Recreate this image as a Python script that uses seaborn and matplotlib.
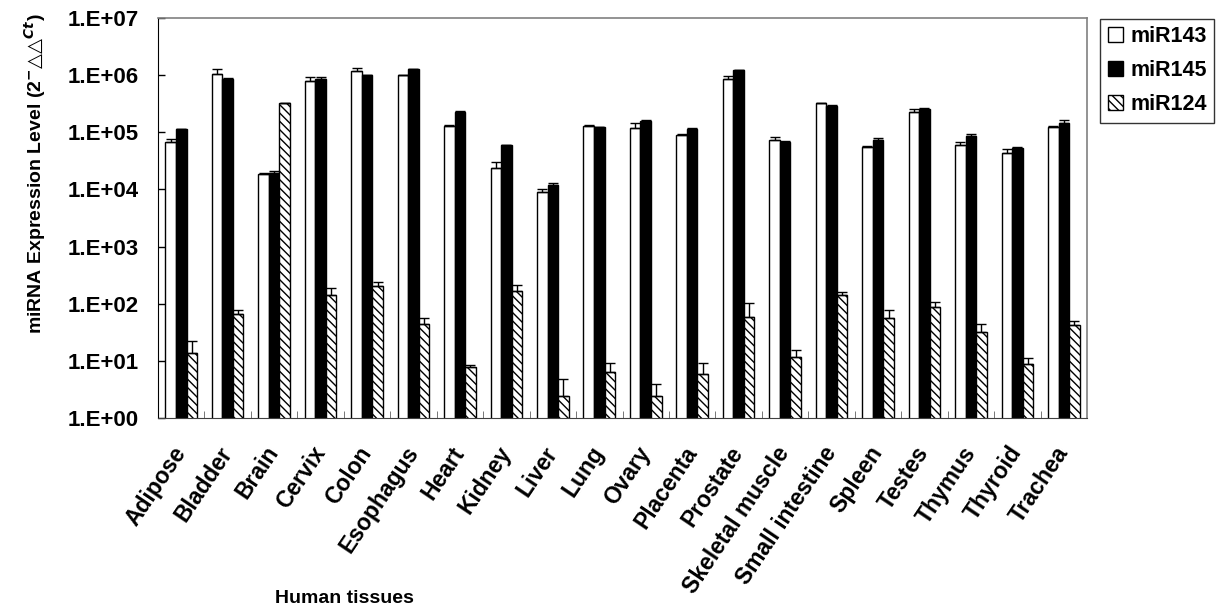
import numpy as np
import pandas as pd
import matplotlib
matplotlib.use("Agg")
import matplotlib.pyplot as plt
import seaborn as sns
from matplotlib.ticker import FuncFormatter, NullLocator
from matplotlib.patches import Patch

tissues = ["Adipose", "Bladder", "Brain", "Cervix", "Colon", "Esophagus", "Heart",
           "Kidney", "Liver", "Lung", "Ovary", "Placenta", "Prostate",
           "Skeletal muscle", "Small intestine", "Spleen", "Testes", "Thymus",
           "Thyroid", "Trachea"]
series = ["miR143", "miR145", "miR124"]

mir143 = [6.7e4, 1.05e6, 1.85e4, 7.9e5, 1.18e6, 1.0e6, 1.29e5, 2.4e4, 9.0e3, 1.3e5,
          1.2e5, 9.1e4, 8.7e5, 7.4e4, 3.2e5, 5.6e4, 2.3e5, 6.0e4, 4.3e4, 1.24e5]
mir145 = [1.14e5, 8.7e5, 1.9e4, 8.5e5, 1.0e6, 1.28e6, 2.28e5, 6.0e4, 1.2e4, 1.23e5,
          1.6e5, 1.15e5, 1.23e6, 6.8e4, 2.9e5, 7.3e4, 2.6e5, 8.7e4, 5.4e4, 1.45e5]
mir124 = [13.9, 66, 3.2e5, 141, 203, 44, 7.8, 170, 2.4, 6.4,
          2.4, 5.8, 59, 11.5, 142, 56, 88, 32, 8.7, 42]

# upper error bars only
err143 = [9e3, 2.1e5, 6e2, 1.4e5, 1.5e5, 2e4, 3e3, 6e3, 1e3, 4e3,
          2.3e4, 2e3, 1.1e5, 1e4, 8e3, 2e3, 2.8e4, 7e3, 7e3, 4e3]
err145 = [2e3, 2e4, 2.2e3, 8e4, 1e4, 2e4, 4e3, 1e3, 1.2e3, 1e3,
          5e3, 2e3, 2e4, 1e3, 5e3, 8e3, 1e4, 8e3, 1e3, 1.8e4]
err124 = [8, 13, 1e4, 50, 37, 12, 0.8, 46, 2.5, 2.8,
          1.6, 3.4, 43, 4.2, 19, 22, 18, 13, 2.4, 8]

df = pd.DataFrame({"tissue": tissues, "miR143": mir143, "miR145": mir145, "miR124": mir124})
df = df.melt(id_vars="tissue", var_name="miRNA", value_name="value")

plt.rcParams["font.family"] = ["Liberation Sans", "DejaVu Sans"]
plt.rcParams["font.weight"] = "bold"
plt.rcParams["hatch.linewidth"] = 1.0

fig = plt.figure(figsize=(12.23, 6.1), dpi=100)
ax = fig.add_axes([0.1292, 0.3148, 0.7596, 0.6557])
ax.set_yscale("log")

sns.barplot(data=df, x="tissue", y="value", hue="miRNA", hue_order=series,
            palette=["white", "black", "white"], edgecolor="black", linewidth=1,
            width=0.68, gap=0, errorbar=None, legend=False, ax=ax)

for i, (cont, vals, errs) in enumerate(zip(ax.containers, [mir143, mir145, mir124],
                                           [err143, err145, err124])):
    xs = [b.get_x() + b.get_width() / 2 for b in cont]
    ax.errorbar(xs, vals, yerr=[np.zeros(len(errs)), errs], fmt="none",
                ecolor="black", elinewidth=1, capsize=3.5, capthick=1, zorder=3)
    if i == 2:
        for b in cont:
            b.set_hatch("\\\\\\\\")

ax.set_ylim(1, 1e7)
ax.set_xlim(-0.5, len(tissues) - 0.5)
ax.set_yticks([10 ** k for k in range(8)])
ax.yaxis.set_minor_locator(NullLocator())
ax.yaxis.set_major_formatter(FuncFormatter(lambda v, p: "1.E+%02d" % int(round(np.log10(v)))))
ax.tick_params(axis="y", direction="in", length=5, pad=14, labelsize=16, width=1)

ax.set_xticks(range(len(tissues)))
ax.set_xticklabels(tissues, rotation=56, ha="right", va="center", rotation_mode="anchor",
                   fontweight="bold", fontsize=16.5)
ax.set_xticks(np.arange(0.5, len(tissues) - 0.5, 1), minor=True)
ax.tick_params(axis="x", which="major", length=0, pad=22)
ax.tick_params(axis="x", which="minor", direction="in", length=5, color="#606060")

ax.set_xlabel("Human tissues", fontsize=14, fontweight="bold")
ax.xaxis.set_label_coords(0.201, -0.43)
ax.set_ylabel("miRNA Expression Level (2$^{-}\u25b3\u25b3^{Ct}$)", fontsize=14,
              fontweight="bold")
ax.yaxis.set_label_coords(-0.118, 0.61)

for side in ["top", "right"]:
    ax.spines[side].set_color("#808080")
    ax.spines[side].set_linewidth(1.2)
ax.spines["left"].set_color("black")
ax.spines["bottom"].set_color("#404040")

handles = [Patch(facecolor="white", edgecolor="black"),
           Patch(facecolor="black", edgecolor="black"),
           Patch(facecolor="white", edgecolor="black", hatch="\\\\\\\\")]
leg = ax.legend(handles, series, loc="upper left", bbox_to_anchor=(1.014, 0.998),
                borderaxespad=0, fancybox=False, edgecolor="black",
                prop={"weight": "bold", "size": 15.5}, handlelength=0.7,
                handleheight=0.7, handletextpad=0.35, labelspacing=0.6, borderpad=0.35)
leg.get_frame().set_linewidth(1)

plt.savefig("out.png", dpi=100)
plt.close()
